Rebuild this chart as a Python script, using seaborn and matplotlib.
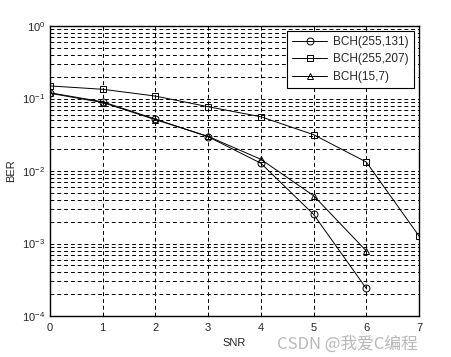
import numpy as np
import pandas as pd
import matplotlib
matplotlib.use("Agg")
import matplotlib.pyplot as plt
import seaborn as sns
from matplotlib.ticker import LogLocator, FixedLocator

snr = [0, 1, 2, 3, 4, 5, 6, 7]
ber_255_131 = [0.120, 0.090, 0.052, 0.0297, 0.0128, 0.00252, 0.00024]
ber_255_207 = [0.149, 0.134, 0.108, 0.077, 0.056, 0.0317, 0.0133, 0.00127]
ber_15_7 = [0.118, 0.088, 0.051, 0.030, 0.0145, 0.00457, 0.00079]
labels = ["BCH(255,131)", "BCH(255,207)", "BCH(15,7)"]
markers = ["o", "s", "^"]

frames = []
for lab, vals in zip(labels, [ber_255_131, ber_255_207, ber_15_7]):
    frames.append(pd.DataFrame({"SNR": snr[:len(vals)], "BER": vals, "code": lab}))
df = pd.concat(frames, ignore_index=True)

sns.set_style("white")
plt.rcParams["font.family"] = ["Liberation Sans", "DejaVu Sans"]
plt.rcParams["mathtext.fontset"] = "custom"
plt.rcParams["mathtext.rm"] = "Liberation Sans"
plt.rcParams["mathtext.it"] = "Liberation Sans"

fig = plt.figure(figsize=(4.51, 3.57), dpi=100)
ax = fig.add_axes([50/451, 1-316/357, (419-50)/451, (316-26)/357])

for lab, m in zip(labels, markers):
    sub = df[df.code == lab]
    sns.lineplot(data=sub, x="SNR", y="BER", ax=ax, color="black", lw=0.7,
                 marker=m, markersize=5, markerfacecolor="none",
                 markeredgecolor="black", markeredgewidth=0.7, label=lab)

ax.set_yscale("log")
ax.set_xlim(0, 7)
ax.set_ylim(1e-4, 1)
ax.xaxis.set_major_locator(FixedLocator(range(8)))
ax.yaxis.set_major_locator(LogLocator(base=10, numticks=10))
ax.yaxis.set_minor_locator(LogLocator(base=10, subs=np.arange(2, 10), numticks=10))
ax.grid(True, which="major", axis="both", color="black", linestyle=(0, (4, 3)), lw=0.7)
ax.grid(True, which="minor", axis="y", color="black", linestyle=(0, (4, 3)), lw=0.7)
ax.tick_params(which="both", direction="in", labelsize=8, length=0)
ax.tick_params(axis="x", pad=5)
for s in ax.spines.values():
    s.set_color("black")
    s.set_linewidth(1.0)
ax.set_xlabel("SNR", fontsize=8, labelpad=4)
ax.set_ylabel("BER", fontsize=8, labelpad=4)

leg = ax.legend(loc="upper right", fontsize=8.5, frameon=True, fancybox=False,
                edgecolor="black", framealpha=1, borderaxespad=0.4,
                handlelength=3.0, handletextpad=0.5, labelspacing=0.45,
                borderpad=0.45)
leg.get_frame().set_linewidth(0.8)

fig.text(0.615, 0.022, "CSDN @我爱C编程", fontsize=12, color="#b8b8b8",
         family=["Noto Sans CJK SC", "DejaVu Sans"])

fig.savefig("out.png", dpi=100)
